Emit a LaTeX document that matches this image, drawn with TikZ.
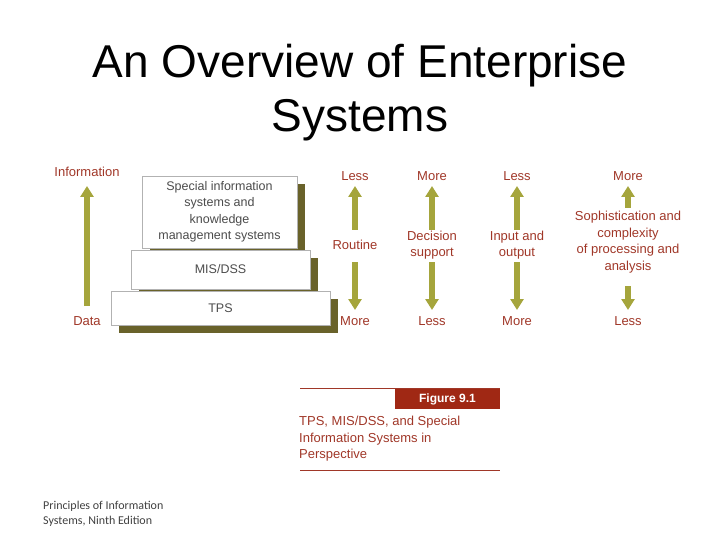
\documentclass[tikz,border=0pt]{standalone}
\usepackage{fontspec}
\setmainfont{Liberation Sans}
\newfontfamily\foot{Carlito}
\usetikzlibrary{arrows.meta}
\definecolor{olive}{RGB}{165,165,60}
\definecolor{dropshade}{RGB}{105,98,42}
\definecolor{rusty}{RGB}{160,55,40}
\definecolor{figred}{RGB}{160,40,20}
\tikzset{
  layer/.style = {draw=gray!60, fill=white, align=center, inner sep=0pt, font=\fontsize{12.5}{16.5}\selectfont\color{black!70}},
  lbl/.style = {align=center, font=\fontsize{13}{16.5}\selectfont\color{rusty}, inner sep=1pt},
  fat/.style = {draw=olive, line width=6pt, -{Triangle[width=13pt,length=11pt]}},
}
\begin{document}
\begin{tikzpicture}[x=1pt,y=-1pt]
\useasboundingbox (0,0) rectangle (720,540);
\node at (360,66) {\fontsize{46}{50}\selectfont An Overview of Enterprise};
\node at (360,120) {\fontsize{46}{50}\selectfont Systems};
% shadows
\fill[dropshade] (119,299) rectangle (338,333);
\fill[dropshade] (139,258) rectangle (318,297);
\fill[dropshade] (150,184) rectangle (305,256);
% layers
\node[layer, minimum width=219, minimum height=34] (tps) at (220.5,308) {TPS};
\node[layer, minimum width=179, minimum height=39] (mis) at (220.5,269.5) {MIS/DSS};
\node[layer, minimum width=155, minimum height=72] (sis) at (219.5,212) {Special information\\systems and\\knowledge\\management systems};
% left axis
\node[lbl] (info) at (87,172) {Information};
\node[lbl] (data) at (87,321) {Data};
\draw[fat] (87,306) -- (87,186);
% right columns
\foreach \x/\top/\bot [count=\i] in {355/Less/More, 432/More/Less, 517/Less/More, 628/More/Less}{
  \node[lbl] (top\i) at (\x,176) {\top};
  \node[lbl] (bot\i) at (\x,321) {\bot};
}
\node[lbl] (mid1) at (355,245) {Routine};
\node[lbl] (mid2) at (432,245) {Decision\\support};
\node[lbl] (mid3) at (517,245) {Input and\\output};
\node[lbl] (mid4) at (628,242) {Sophistication and\\complexity\\of processing and\\analysis};
\foreach \i in {1,2,3}{
  \draw[fat] (mid\i.north |- 0,230) -- (mid\i.north |- 0,186);
  \draw[fat] (mid\i.south |- 0,262) -- (mid\i.south |- 0,310);
}
\draw[fat] (628,208) -- (628,186);
\draw[fat] (628,286) -- (628,310);
% caption
\draw[rusty, line width=0.8pt] (300,388) -- (500,388);
\fill[figred] (395,389) rectangle (500,409);
\node[text=white, font=\fontsize{12}{14}\selectfont\bfseries] (fig) at (447.5,399.5) {Figure 9.1};
\node[lbl, anchor=north west, align=left, text=rusty] (cap) at (298,415) {TPS, MIS/DSS, and Special\\Information Systems in\\Perspective};
\draw[rusty, line width=0.8pt] (300,470) -- (500,470);
\node[anchor=north west, align=left, inner sep=0pt, font=\foot\fontsize{12}{15}\selectfont\color{black!75}] (src) at (43,501) {Principles of Information\\Systems, Ninth Edition};
\end{tikzpicture}
\end{document}
